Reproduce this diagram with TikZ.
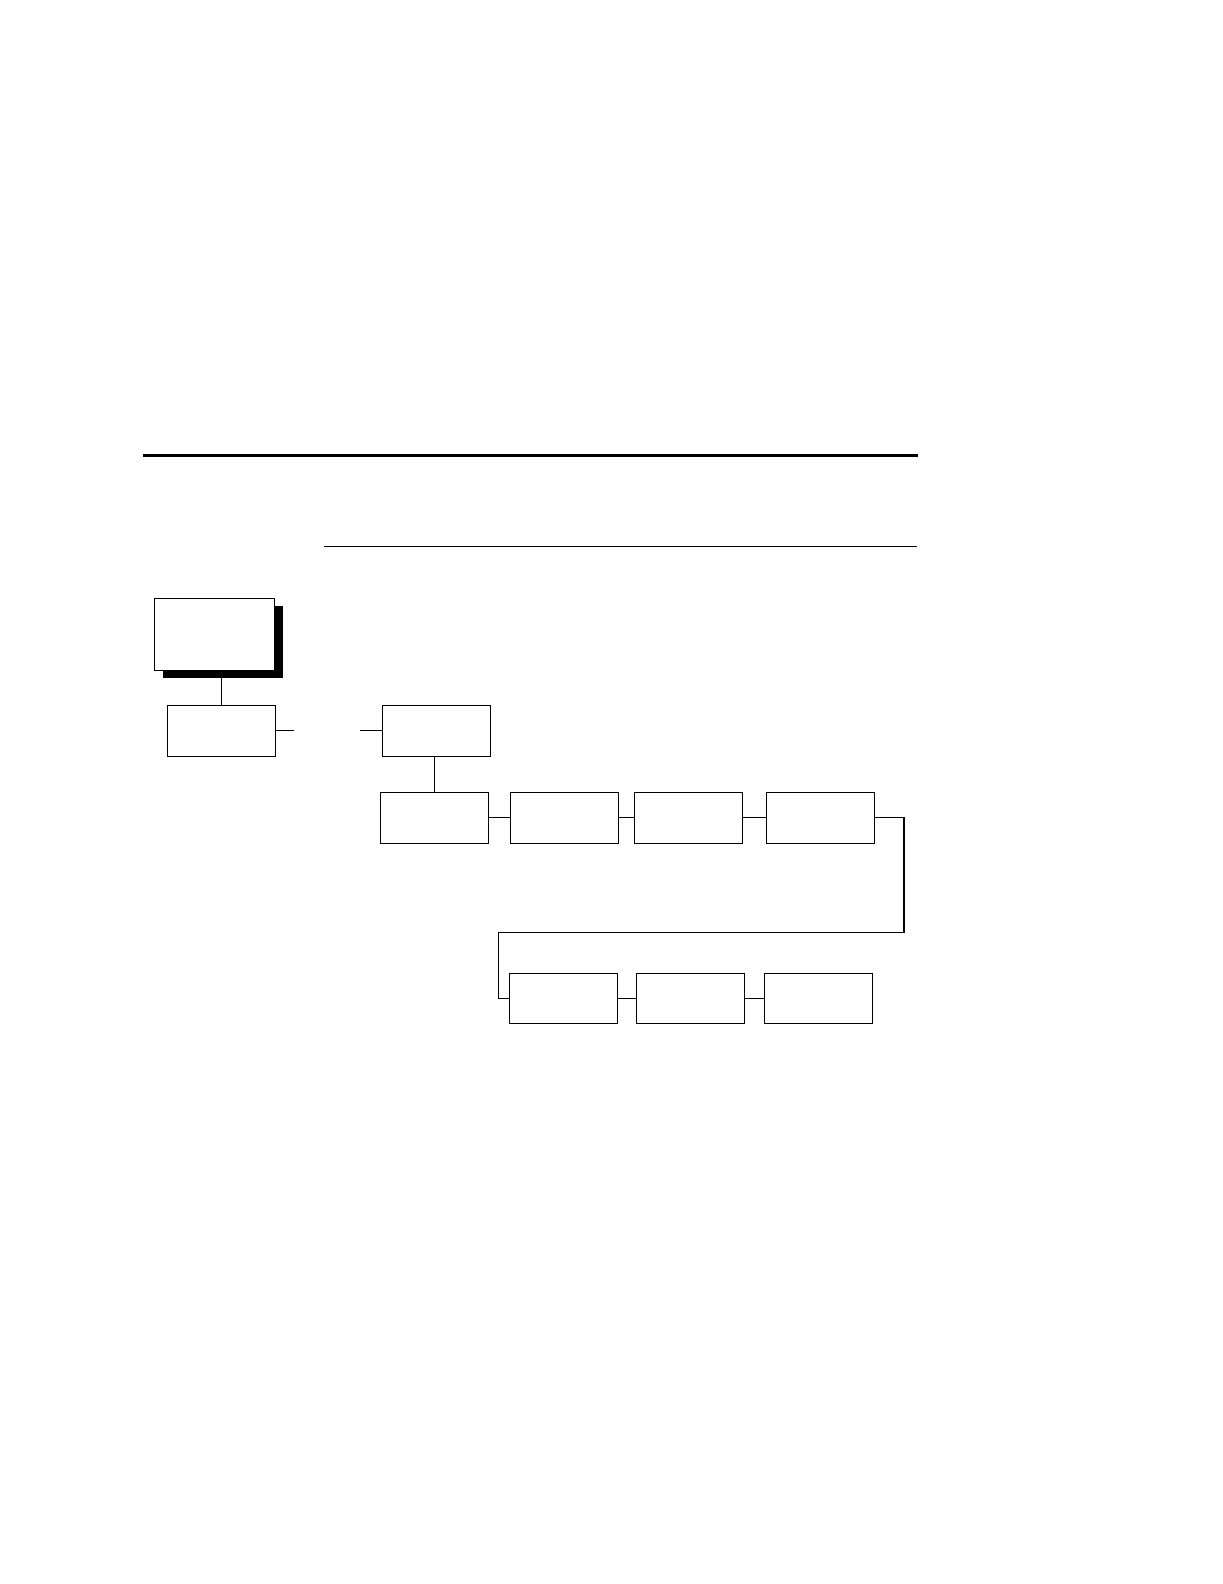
\documentclass[tikz,border=0pt]{standalone}
\usepackage{tikz}
\usetikzlibrary{shadows}

\begin{document}
\begin{tikzpicture}[x=0.5pt, y=-0.5pt]
            \useasboundingbox (0,0) rectangle (1222,1584);

            % Page rules
            \draw[line width=1.1pt] (142.5,455.5) -- (918,455.5);
            \draw[line width=0.6pt] (324,546.5) -- (917,546.5);

            % Top menu box with solid shadow
            \node[draw, rectangle, fill=white, line width=0.6pt, minimum width=60pt, minimum height=36pt,
                  drop shadow={shadow xshift=4pt, shadow yshift=-4pt, fill=black, opacity=1}] (main) at (214.5, 634.3) {};

            % First level
            \node[draw, rectangle, line width=0.6pt, minimum width=54pt, minimum height=25.5pt] (entry) at (221.5, 730.8) {};
            \node[draw, rectangle, line width=0.6pt, minimum width=54pt, minimum height=25.5pt] (branch) at (436.5, 730.8) {};

            % Upper row of options
            \node[draw, rectangle, line width=0.6pt, minimum width=54pt, minimum height=25.5pt] (optA) at (434.5, 817.7) {};
            \node[draw, rectangle, line width=0.6pt, minimum width=54pt, minimum height=25.5pt] (optB) at (564.3, 817.7) {};
            \node[draw, rectangle, line width=0.6pt, minimum width=54pt, minimum height=25.5pt] (optC) at (688.3, 817.7) {};
            \node[draw, rectangle, line width=0.6pt, minimum width=54pt, minimum height=25.5pt] (optD) at (820.3, 817.7) {};

            % Lower row of options
            \node[draw, rectangle, line width=0.6pt, minimum width=54pt, minimum height=25pt] (optE) at (563.3, 998.3) {};
            \node[draw, rectangle, line width=0.6pt, minimum width=54pt, minimum height=25pt] (optF) at (690.3, 998.3) {};
            \node[draw, rectangle, line width=0.6pt, minimum width=54pt, minimum height=25pt] (optG) at (818.3, 998.3) {};

            % Connectors
            \draw[line width=0.6pt] (entry.north) -- (entry.north |- main.south);
            \draw[line width=0.6pt] (entry.east) -- ++(18,0);
            \draw[line width=0.6pt] (branch.west) -- ++(-22,0);
            \draw[line width=0.6pt] (optA.north) -- (optA.north |- branch.south);
            \draw[line width=0.6pt] (optA) -- (optB);
            \draw[line width=0.6pt] (optB) -- (optC);
            \draw[line width=0.6pt] (optC) -- (optD);
            \coordinate (turn) at (498.3, 932.3);
            \draw[line width=0.6pt] (optD.east) -- ++(29,0) |- (turn) |- (optE.west);
            \draw[line width=0.6pt] (optE) -- (optF);
            \draw[line width=0.6pt] (optF) -- (optG);
        \end{tikzpicture}
\end{document}
